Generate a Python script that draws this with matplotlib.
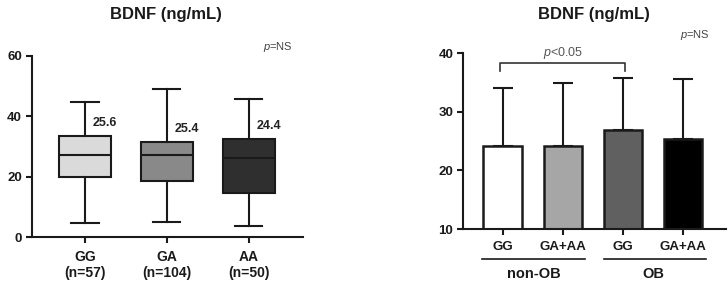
import matplotlib
matplotlib.use("Agg")
import matplotlib.pyplot as plt
import matplotlib.transforms as mtransforms

plt.rcParams['font.family'] = ['Liberation Sans', 'DejaVu Sans']
plt.rcParams['mathtext.fontset'] = 'custom'
plt.rcParams['mathtext.it'] = 'Liberation Sans:italic'
plt.rcParams['mathtext.rm'] = 'Liberation Sans'

# ---- Left panel data (box plot) ----
genotypes = ["GG", "GA", "AA"]
n_counts = [57, 104, 50]
whis_lo = [4.8, 5.1, 3.7]
q1 = [20.1, 18.5, 14.7]
medians = [27.2, 27.1, 26.2]
q3 = [33.6, 31.6, 32.4]
whis_hi = [44.9, 49.0, 45.7]
mean_labels = [25.6, 25.4, 24.4]
box_colors = ["#dadada", "#898989", "#2f2f2f"]
left_yticks = [0, 20, 40, 60]

# ---- Right panel data (bar chart) ----
bar_labels = ["GG", "GA+AA", "GG", "GA+AA"]
groups = ["non-OB", "OB"]
bar_means = [24.1, 24.2, 26.9, 25.4]
bar_sd = [9.9, 10.7, 8.8, 10.2]
bar_colors = ["#ffffff", "#a6a6a6", "#606060", "#000000"]
right_yticks = [10, 20, 30, 40]

W, H = 728, 286
fig = plt.figure(figsize=(W / 100, H / 100), dpi=100)

LW = 1.5
ax1 = fig.add_axes([31.7 / W, 1 - 237.3 / H, (303 - 31.7) / W, (237.3 - 56) / H])
ax2 = fig.add_axes([463 / W, 1 - 229 / H, (725.7 - 463) / W, (229 - 53.3) / H])

for ax in (ax1, ax2):
    ax.spines['top'].set_visible(False)
    ax.spines['right'].set_visible(False)
    for s in ('left', 'bottom'):
        ax.spines[s].set_linewidth(LW)
        ax.spines[s].set_color('#1a1a1a')
    ax.tick_params(axis='both', width=LW, length=4.5, color='#1a1a1a',
                   labelsize=9.5, pad=2.5)

# Left box plot
stats = []
for i in range(len(genotypes)):
    stats.append(dict(med=medians[i], q1=q1[i], q3=q3[i],
                      whislo=whis_lo[i], whishi=whis_hi[i], fliers=[]))
pos = list(range(len(genotypes)))
bp = ax1.bxp(stats, positions=pos, widths=0.64, patch_artist=True,
             showfliers=False,
             boxprops=dict(linewidth=LW, edgecolor='#1a1a1a'),
             medianprops=dict(linewidth=LW, color='#1a1a1a'),
             whiskerprops=dict(linewidth=LW, color='#1a1a1a'),
             capprops=dict(linewidth=LW, color='#1a1a1a'),
             capwidths=0.33)
for patch, c in zip(bp['boxes'], box_colors):
    patch.set_facecolor(c)
ax1.set_xlim(-0.65, 2.66)
ax1.set_ylim(0, 60)
ax1.set_yticks(left_yticks)
ax1.set_yticklabels([str(v) for v in left_yticks], fontweight='bold',
                    color='#1a1a1a')
ax1.set_xticks(pos)
ax1.set_xticklabels([f"{g}\n(n={n})" for g, n in zip(genotypes, n_counts)],
                    fontweight='bold', fontsize=10, linespacing=1.15,
                    color='#1a1a1a')
ax1.tick_params(axis='x', pad=5)
for i, m in enumerate(mean_labels):
    ax1.text(i + 0.09, q3[i] + 4.3, f"{m}", ha='left', va='center',
             fontsize=9, fontweight='bold', color='#222222')

# Right bar chart
xs = list(range(len(bar_labels)))
ax2.bar(xs, bar_means, width=0.64, color=bar_colors, edgecolor='#1a1a1a',
        linewidth=1.8, zorder=2)
ax2.errorbar(xs, bar_means, yerr=[[0] * len(bar_sd), bar_sd], fmt='none',
             ecolor='#1a1a1a', elinewidth=LW, capsize=7, capthick=LW, zorder=1)
ax2.set_xlim(-0.66, 3.71)
ax2.set_ylim(10, 40)
ax2.set_yticks(right_yticks)
ax2.set_yticklabels([str(v) for v in right_yticks], fontweight='bold',
                    color='#1a1a1a')
ax2.set_xticks(xs)
ax2.set_xticklabels(bar_labels, fontweight='bold', fontsize=9.5,
                    color='#1a1a1a')
ax2.tick_params(axis='x', pad=4)

# significance bracket
ax2.plot([-0.05, -0.05, 2.03, 2.03], [37.0, 38.4, 38.4, 37.0], color='#333333',
         lw=1.2, clip_on=False)
ax2.text(1.0, 40.0, r"$\it{p}$<0.05", ha='center', va='center', fontsize=9,
         color='#555555')

# group lines and labels below the axis
trans = mtransforms.blended_transform_factory(ax2.transData, ax2.transAxes)
for (x0, x1, xc), g in zip([(-0.34, 1.37, 0.52), (1.69, 3.39, 2.5)], groups):
    ax2.plot([x0, x1], [-0.172, -0.172], transform=trans, color='#1a1a1a',
             lw=1.2, clip_on=False)
    ax2.text(xc, -0.255, g, transform=trans, ha='center', va='center',
             fontsize=10.5, fontweight='bold', color='#1a1a1a')

# titles and p=NS
fig.text(166 / W, 1 - 14 / H, "BDNF (ng/mL)", ha='center', va='center',
         fontsize=12, fontweight='bold', color='#1a1a1a')
fig.text(594 / W, 1 - 14 / H, "BDNF (ng/mL)", ha='center', va='center',
         fontsize=12, fontweight='bold', color='#1a1a1a')
fig.text(278 / W, 1 - 47 / H, r"$\it{p}$=NS", ha='center', va='center',
         fontsize=8, color='#444444')
fig.text(695 / W, 1 - 35 / H, r"$\it{p}$=NS", ha='center', va='center',
         fontsize=8, color='#444444')

fig.savefig("out.png", dpi=100, facecolor='white')
